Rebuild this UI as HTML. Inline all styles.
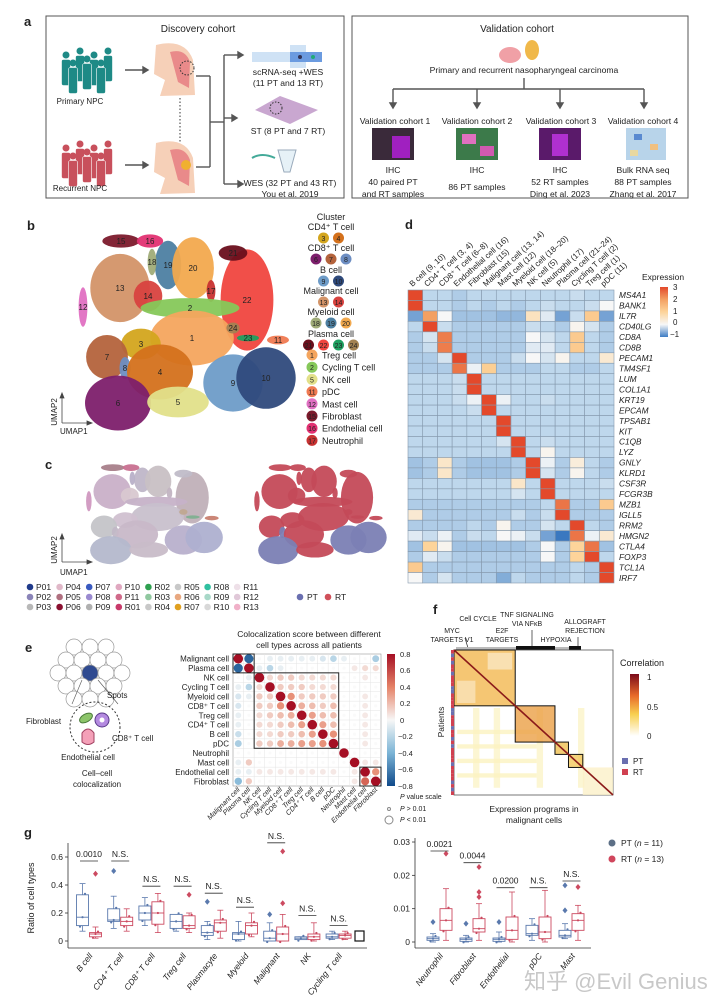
<!DOCTYPE html>
<html><head><meta charset="utf-8"><style>
html,body{margin:0;padding:0;background:#fff;}
svg{display:block;font-family:"Liberation Sans","Noto Sans CJK SC",sans-serif;}
text{fill:#222;}
</style></head><body>
<svg id="fig" width="720" height="1004" viewBox="0 0 720 1004" xmlns="http://www.w3.org/2000/svg">
<rect width="720" height="1004" fill="#fff"/>
<!-- Panel a -->
<g font-size="8.6">
<text x="24" y="26" font-size="13" font-weight="bold">a</text>
<rect x="46" y="16" width="298" height="182" fill="#fff" stroke="#555" stroke-width="1"/>
<rect x="352" y="16" width="336" height="182" fill="#fff" stroke="#555" stroke-width="1"/>
<text x="198" y="32" font-size="10" text-anchor="middle">Discovery cohort</text>
<text x="517" y="32" font-size="10" text-anchor="middle">Validation cohort</text>
<g id="people"></g>
<text x="80" y="104" text-anchor="middle" font-size="8">Primary NPC</text>
<text x="80" y="191" text-anchor="middle" font-size="8">Recurrent NPC</text>
<g stroke="#555" stroke-width="1.4" fill="#555">
<line x1="125" y1="70" x2="143" y2="70"/><polygon points="143,67 148,70 143,73"/>
<line x1="125" y1="165" x2="143" y2="165"/><polygon points="143,162 148,165 143,168"/>
<line x1="196" y1="76" x2="210" y2="76" fill="none"/><line x1="210" y1="76" x2="210" y2="167"/><line x1="196" y1="167" x2="210" y2="167"/>
<line x1="210" y1="122" x2="224" y2="122"/><line x1="224" y1="55" x2="224" y2="184"/>
<line x1="224" y1="55" x2="238" y2="55"/><polygon points="238,52 243,55 238,58"/>
<line x1="224" y1="118" x2="232" y2="118"/><polygon points="232,115 237,118 232,121"/>
<line x1="224" y1="184" x2="238" y2="184"/><polygon points="238,181 243,184 238,187"/>
</g>
<line x1="180" y1="98" x2="180" y2="145" stroke="#333" stroke-dasharray="1.5,2"/>
<g><path d="M156,45 Q185,38 193,60 L195,95 L160,96 L165,80 L154,74 Z" fill="#f6d0b8"/><path d="M170,52 Q185,48 190,62 L189,88 L178,82 Z" fill="#e98a8a"/><circle cx="187" cy="68" r="7" fill="none" stroke="#333" stroke-dasharray="1.5,1.5"/></g>
<g><path d="M156,143 Q185,136 193,158 L195,193 L160,194 L165,178 L154,172 Z" fill="#f6d0b8"/><path d="M170,150 Q185,146 190,160 L189,186 L178,180 Z" fill="#e98a8a"/><circle cx="186" cy="165" r="5" fill="#f0b030"/></g>
<g><rect x="252" y="52" width="70" height="10" fill="#cfe2f5"/><rect x="290" y="45" width="16" height="23" fill="#cfe2f5"/><rect x="290" y="52" width="32" height="10" fill="#6b9be0"/><circle cx="300" cy="57" r="2" fill="#335"/><circle cx="313" cy="57" r="2" fill="#2a7"/></g>
<text x="288" y="75" text-anchor="middle">scRNA-seq +WES</text><text x="288" y="86" text-anchor="middle">(11 PT and 13 RT)</text>
<polygon points="255,110 280,96 318,110 290,124" fill="#c9a7d0"/>
<circle cx="276" cy="108" r="6" fill="none" stroke="#333" stroke-dasharray="1.5,1.5"/>
<text x="288" y="134" text-anchor="middle">ST (8 PT and 7 RT)</text>
<path d="M278,150 L296,150 L290,172 L284,172 Z" fill="#e6f1f7" stroke="#9ab"/><path d="M252,158 Q262,152 275,158" stroke="#4a9" stroke-width="2" fill="none"/>
<text x="290" y="186" text-anchor="middle">WES (32 PT and 43 RT)</text><text x="290" y="197" text-anchor="middle">You et al. 2019</text>
<ellipse cx="510" cy="55" rx="11" ry="8" fill="#f0a0a6"/><ellipse cx="532" cy="50" rx="7" ry="10" fill="#f0b84a"/>
<text x="524" y="73" text-anchor="middle">Primary and recurrent nasopharyngeal carcinoma</text>
<g stroke="#555" stroke-width="1.4" fill="#555">
<line x1="524" y1="78" x2="524" y2="89"/><line x1="393" y1="89" x2="644" y2="89"/>
<line x1="393" y1="89" x2="393" y2="103"/><polygon points="390,103 393,108 396,103"/>
<line x1="477" y1="89" x2="477" y2="103"/><polygon points="474,103 477,108 480,103"/>
<line x1="560" y1="89" x2="560" y2="103"/><polygon points="557,103 560,108 563,103"/>
<line x1="644" y1="89" x2="644" y2="103"/><polygon points="641,103 644,108 647,103"/>
</g>
<g text-anchor="middle">
<text x="395" y="124">Validation cohort 1</text><text x="477" y="124">Validation cohort 2</text><text x="561" y="124">Validation cohort 3</text><text x="643" y="124">Validation cohort 4</text>
<text x="393" y="173">IHC</text><text x="393" y="185">40 paired PT</text><text x="393" y="197">and RT samples</text>
<text x="477" y="173">IHC</text><text x="477" y="190">86 PT samples</text>
<text x="560" y="173">IHC</text><text x="560" y="185">52 RT samples</text><text x="560" y="197">Ding et al. 2023</text>
<text x="643" y="173">Bulk RNA seq</text><text x="643" y="185">88 PT samples</text><text x="643" y="197">Zhang et al. 2017</text>
</g>
<rect x="372" y="128" width="42" height="32" fill="#3a2a3a"/><rect x="392" y="136" width="18" height="22" fill="#a020c0"/>
<rect x="456" y="128" width="42" height="32" fill="#3c7a4a"/><rect x="462" y="134" width="14" height="10" fill="#e070c0"/><rect x="480" y="146" width="14" height="10" fill="#d05ab0"/>
<rect x="539" y="128" width="42" height="32" fill="#5a1a6a"/><rect x="552" y="134" width="16" height="22" fill="#b030d0"/>
<rect x="626" y="128" width="40" height="32" fill="#b8d4ea"/><rect x="634" y="134" width="8" height="6" fill="#5a8ad0"/><rect x="650" y="144" width="8" height="6" fill="#f0c080"/><rect x="630" y="150" width="8" height="6" fill="#e8d8a0"/>
</g>

<!-- Panel b -->
<g>
<text x="27" y="230" font-size="13" font-weight="bold">b</text>
<g id="umapB"></g>
<g id="legendB" font-size="9"></g>
<g stroke="#444" stroke-width="0.8" fill="#444"><line x1="62" y1="396" x2="62" y2="423"/><line x1="62" y1="423" x2="89" y2="423"/><polygon points="60,398 62,393 64,398"/><polygon points="87,421 92,423 87,425"/></g>
<text x="57" y="412" font-size="8" transform="rotate(-90 57 412)" text-anchor="middle">UMAP2</text>
<text x="60" y="434" font-size="8">UMAP1</text>
</g>
<!-- Panel c -->
<g>
<text x="45" y="469" font-size="13" font-weight="bold">c</text>
<g id="umapC1"></g>
<g id="umapC2"></g>
<g stroke="#444" stroke-width="0.8" fill="#444"><line x1="62" y1="537" x2="62" y2="562"/><line x1="62" y1="562" x2="89" y2="562"/><polygon points="60,539 62,534 64,539"/><polygon points="87,560 92,562 87,564"/></g>
<text x="57" y="550" font-size="8" transform="rotate(-90 57 550)" text-anchor="middle">UMAP2</text>
<text x="60" y="575" font-size="8">UMAP1</text>
<g id="legendC" font-size="8.5"></g>
</g>
<!-- Panel d -->
<g>
<text x="405" y="229" font-size="13" font-weight="bold">d</text>
<g id="heatD"></g>
<text x="642" y="280" font-size="8.5">Expression</text>
<defs>
<linearGradient id="gD" x1="0" y1="0" x2="0" y2="1"><stop offset="0" stop-color="#e3492b"/><stop offset="0.25" stop-color="#f3a062"/><stop offset="0.5" stop-color="#fdd49a"/><stop offset="0.75" stop-color="#f7f7f7"/><stop offset="1" stop-color="#3d7cc4"/></linearGradient>
<linearGradient id="gE" x1="0" y1="0" x2="0" y2="1"><stop offset="0" stop-color="#a50f24"/><stop offset="0.25" stop-color="#e58267"/><stop offset="0.5" stop-color="#f7f7f7"/><stop offset="0.75" stop-color="#7bb4d6"/><stop offset="1" stop-color="#104a8a"/></linearGradient>
<linearGradient id="gF" x1="0" y1="0" x2="0" y2="1"><stop offset="0" stop-color="#7a0a1a"/><stop offset="0.35" stop-color="#e86a2a"/><stop offset="0.65" stop-color="#f8d050"/><stop offset="1" stop-color="#ffffff"/></linearGradient>
</defs>
<rect x="660" y="287" width="8" height="50" fill="url(#gD)"/>
<g font-size="8"><text x="673" y="290">3</text><text x="673" y="302">2</text><text x="673" y="314">1</text><text x="673" y="325">0</text><text x="670" y="337">−1</text></g>
</g>
<!-- Panel e -->
<g>
<text x="25" y="652" font-size="13" font-weight="bold">e</text>
<g id="spots"></g>
<text x="107" y="698" font-size="8">Spots</text>
<circle cx="95" cy="727" r="25" fill="none" stroke="#333" stroke-dasharray="2,2"/>
<ellipse cx="86" cy="718" rx="7" ry="4" fill="#8cc46a" stroke="#4a7a3a" transform="rotate(-30 86 718)"/>
<circle cx="102" cy="720" r="7" fill="#b48ae0" stroke="#5a3a8a"/><circle cx="102" cy="720" r="2.5" fill="#fff"/>
<path d="M82,733 q6,-8 12,0 l0,9 q-6,5 -12,0 z" fill="#f4a0b8" stroke="#a04060"/>
<text x="26" y="724" font-size="8">Fibroblast</text><text x="112" y="741" font-size="8">CD8⁺ T cell</text>
<text x="88" y="760" font-size="8" text-anchor="middle">Endothelial cell</text>
<text x="97" y="776" font-size="8" text-anchor="middle">Cell–cell</text><text x="97" y="787" font-size="8" text-anchor="middle">colocalization</text>
<text x="309" y="637" font-size="8.5" text-anchor="middle">Colocalization score between different</text>
<text x="309" y="648" font-size="8.5" text-anchor="middle">cell types across all patients</text>
<g id="matE"></g>
<rect x="387" y="654" width="8" height="132" fill="url(#gE)"/>
<g font-size="7.5"><text x="400" y="657">0.8</text><text x="400" y="673">0.6</text><text x="400" y="690">0.4</text><text x="400" y="706">0.2</text><text x="400" y="723">0</text><text x="398" y="739">−0.2</text><text x="398" y="756">−0.4</text><text x="398" y="772">−0.6</text><text x="398" y="789">−0.8</text></g>
<text x="400" y="799" font-size="7"><tspan font-style="italic">P</tspan> value scale</text>
<circle cx="389" cy="809" r="1.5" fill="none" stroke="#888"/><text x="400" y="811" font-size="7"><tspan font-style="italic">P</tspan> &gt; 0.01</text>
<circle cx="389" cy="820" r="4" fill="none" stroke="#888"/><text x="400" y="822" font-size="7"><tspan font-style="italic">P</tspan> &lt; 0.01</text>
</g>
<!-- Panel f -->
<g>
<text x="433" y="614" font-size="13" font-weight="bold">f</text>
<g font-size="7" text-anchor="middle">
<text x="452" y="633">MYC</text><text x="452" y="642">TARGETS V1</text>
<text x="478" y="621">Cell CYCLE</text>
<text x="502" y="633">E2F</text><text x="502" y="642">TARGETS</text>
<text x="527" y="617">TNF SIGNALING</text><text x="527" y="626">VIA NFκB</text>
<text x="556" y="642">HYPOXIA</text>
<text x="585" y="624">ALLOGRAFT</text><text x="585" y="633">REJECTION</text>
</g>
<g stroke="#222" stroke-width="0.7"><line x1="465" y1="638" x2="468" y2="648"/><line x1="532" y1="630" x2="532" y2="647"/><line x1="578" y1="637" x2="578" y2="647"/></g>
<rect x="456" y="647" width="60" height="3" fill="#bbb"/><rect x="516" y="646" width="39" height="4" fill="#111"/><rect x="555" y="647" width="14" height="3" fill="#bbb"/><rect x="569" y="646" width="12" height="4" fill="#111"/>
<g id="heatF"></g>
<text x="444" y="722" font-size="8.5" transform="rotate(-90 444 722)" text-anchor="middle">Patients</text>
<text x="534" y="812" font-size="8.5" text-anchor="middle">Expression programs in</text>
<text x="534" y="823" font-size="8.5" text-anchor="middle">malignant cells</text>
<text x="620" y="666" font-size="9">Correlation</text>
<rect x="630" y="674" width="9" height="62" fill="url(#gF)"/>
<g font-size="8"><text x="647" y="680">1</text><text x="647" y="710">0.5</text><text x="647" y="739">0</text></g>
<rect x="622" y="758" width="6" height="6" fill="#6a6fb0"/><text x="633" y="764" font-size="8">PT</text>
<rect x="622" y="769" width="6" height="6" fill="#d04050"/><text x="633" y="775" font-size="8">RT</text>
</g>
<!-- Panel g -->
<g>
<text x="24" y="837" font-size="13" font-weight="bold">g</text>
<g id="boxL"></g>
<g id="boxR"></g>
<text x="34" y="898" font-size="9" transform="rotate(-90 34 898)" text-anchor="middle">Ratio of cell types</text>
<circle cx="612" cy="843" r="3.5" fill="#5c6f86"/><text x="621" y="846" font-size="8.5">PT (<tspan font-style="italic">n</tspan> = 11)</text>
<circle cx="612" cy="859" r="3.5" fill="#d0465c"/><text x="621" y="862" font-size="8.5">RT (<tspan font-style="italic">n</tspan> = 13)</text>
<rect x="355" y="931" width="9" height="10" fill="none" stroke="#111" stroke-width="1.2"/>
<text x="524" y="989" font-size="22" style="fill:#c8c8c8">知乎 @Evil Genius</text>
</g>
</svg>
<script>
const NS='http://www.w3.org/2000/svg';
function mk(p,tag,a,t){const e=document.createElementNS(NS,tag);for(const k in a)e.setAttribute(k,a[k]);if(t!=null)e.textContent=t;p.appendChild(e);return e;}

/* ---------- UMAP clusters (b, c) ---------- */
const clusterIds=[13,14,19,20,18,22,21,17,2,1,3,7,8,4,6,5,9,10,15,16,12,11,24,23];
const clusterCx=[120,148,168,193,152,247,233,211,190,192,141,107,125,160,118,178,233,266,121,150,83,278,233,248];
const clusterCy=[288,296,265,268,262,300,253,291,308,338,344,357,368,372,403,402,383,378,241,241,307,340,328,338];
const clusterRx=[27,13,12,19,4,24,13,4,45,38,18,19,5,30,30,28,27,27,17,12,4,10,6,10];
const clusterRy=[31,14,22,28,12,46,7,10,9,25,14,20,10,25,25,14,26,28,6,6,18,4,5,3];
const clusterCol={1:'#f4a55e',2:'#86c85a',3:'#d3a51e',4:'#d4711c',5:'#e2e08a',6:'#7d1f6c',7:'#b4633c',8:'#6d8ec2',9:'#6e9cc8',10:'#2f4a7c',11:'#f07a52',12:'#e070c2',13:'#d39468',14:'#d8423f',15:'#7c1a2c',16:'#e23172',17:'#c83232',18:'#a0ac78',19:'#4d80a2',20:'#f2a94e',21:'#6a0f1c',22:'#f0463f',23:'#1ea060',24:'#a38252'};
const patientTint=['#c9b0c8','#d8c8d0','#bfb6c8','#c8c0c4','#b8b0c8','#c0b0b8','#c0bcc8','#c2b4c2','#c6b2c8','#c8c0cc','#d0c0d0','#c4c4c8','#c2b8c6','#c8b8c8','#b4b8cc','#c8bcc8','#b8b0cc','#aeb0d0','#a8808a','#c87090','#d098c0','#c88070','#c0a890','#80b090'];
const typeIsPT=[0,0,0,0,0,0,0,0,0,0,0,0,1,0,1,0,1,1,0,0,0,0,0,0];
const grow=1.1;
const gB=document.getElementById('umapB');
clusterIds.forEach((id,i)=>{
  const e=mk(gB,'ellipse',{cx:clusterCx[i],cy:clusterCy[i],rx:clusterRx[i]*grow,ry:clusterRy[i]*grow,fill:clusterCol[id],opacity:0.95});
  
  
});
clusterIds.forEach((id,i)=>{
  const t=mk(gB,'text',{x:clusterCx[i],y:clusterCy[i]+3,'font-size':8,'text-anchor':'middle'},String(id));
  
  
});
function drawC(gid,ox,oy,sx,sy,colorFn){
  const g=document.getElementById(gid);
  clusterIds.forEach((id,i)=>{
    const e=mk(g,'ellipse',{cx:ox+(clusterCx[i]-88)*sx,cy:oy+(clusterCy[i]-232)*sy,rx:clusterRx[i]*sx*grow,ry:clusterRy[i]*sy*grow,fill:colorFn(i),opacity:0.95});
    
    
  });
}
drawC('umapC1',92,463,0.63,0.51,i=>patientTint[i]);
drawC('umapC2',260,463,0.61,0.51,i=>typeIsPT[i]?'#7b7fb4':'#c44a58');

/* legend b */
const legB=document.getElementById('legendB');
const legGroups=[['Cluster',217,[]],['CD4⁺ T cell',227,[3,4]],['CD8⁺ T cell',248,[6,7,8]],['B cell',270,[9,10]],['Malignant cell',291,[13,14]],['Myeloid cell',312,[18,19,20]],['Plasma cell',334,[21,22,23,24]]];
legGroups.forEach(g=>{
  const t=mk(legB,'text',{x:331,y:g[1]+3,'text-anchor':'middle'},g[0]);
  
  
  const n=g[2].length, sp=15;
  g[2].forEach((id,k)=>{
    const cx=331+(k-(n-1)/2)*sp, cy=g[1]+11;
    const c=mk(legB,'circle',{cx:cx,cy:cy,r:5.5,fill:clusterCol[id]});
    
    
    mk(legB,'text',{x:cx,y:cy+3,'font-size':7,'text-anchor':'middle'},String(id));
  });
});
const singleIds=[1,2,5,11,12,15,16,17];
const singleNames=['Treg cell','Cycling T cell','NK cell','pDC','Mast cell','Fibroblast','Endothelial cell','Neutrophil'];
singleIds.forEach((id,k)=>{
  const cy=355+k*12.2;
  const c=mk(legB,'circle',{cx:312,cy:cy,r:5.5,fill:clusterCol[id]});
  
  
  mk(legB,'text',{x:312,y:cy+3,'font-size':7,'text-anchor':'middle'},String(id));
  const t=mk(legB,'text',{x:322,y:cy+3.5},singleNames[k]);
  
  
});

/* legend c */
const patients=['P01','P02','P03','P04','P05','P06','P07','P08','P09','P10','P11','R01','R02','R03','R04','R05','R06','R07','R08','R09','R10','R11','R12','R13'];
const patientCols=['#1f3a8a','#8a84b8','#b8b8b8','#e0b8c8','#b07080','#8a1030','#3a5ac0','#9a8ad0','#b0b0b0','#e0a8c0','#d06a8a','#c83a6a','#2ea050','#90c8a0','#c8c8c8','#c8c8c8','#e8a880','#e0a020','#30c0a0','#a8d8c8','#d8d8d8','#eee0e8','#e0c8d8','#f0b0c8'];
const legC=document.getElementById('legendC');
patients.forEach((p,i)=>{
  const col=Math.floor(i/3), row=i%3;
  const x=30+col*29.6, y=587+row*10;
  const c=mk(legC,'circle',{cx:x,cy:y,r:3.3,fill:patientCols[i]});
  
  
  const t=mk(legC,'text',{x:x+6,y:y+3},p);
  
  
});
[['PT','#6a6fb0',300],['RT','#d0505a',328]].forEach(d=>{
  const c=mk(legC,'circle',{cx:d[2],cy:597,r:3.3,fill:d[1]});
  
  
  mk(legC,'text',{x:d[2]+7,y:600},d[0]);
});

/* ---------- Panel d heatmap ---------- */
const dCols=['B cell (9, 10)','CD4⁺ T cell (3, 4)','CD8⁺ T cell (6–8)','Endothelial cell (16)','Fibroblast (15)','Malignant cell (13, 14)','Mast cell (12)','Myeloid cell (18–20)','NK cell (5)','Neutrophil (17)','Plasma cell (21–24)','Cycling T cell (2)','Treg cell (1)','pDC (11)'];
const dGenes=['MS4A1','BANK1','IL7R','CD40LG','CD8A','CD8B','PECAM1','TM4SF1','LUM','COL1A1','KRT19','EPCAM','TPSAB1','KIT','C1QB','LYZ','GNLY','KLRD1','CSF3R','FCGR3B','MZB1','IGLL5','RRM2','HMGN2','CTLA4','FOXP3','TCL1A','IRF7'];
const dValues=[
[3,-.5,-.5,-.6,-.5,-.5,-.5,-.5,-.5,-.5,-.5,-.4,-.5,-.5],
[3,-.5,-.5,-.6,-.5,-.6,-.5,-.6,-.5,-.4,-.5,-.5,-.4,0],
[-1,2,0,-.7,-.7,-.7,-.8,-.8,.6,-.2,-1,-.4,1.2,-1],
[-.5,3,-.4,-.6,-.6,-.6,-.6,-.6,-.4,-.5,-.6,.1,-.3,-.6],
[-.6,-.3,2.4,-.6,-.6,-.6,-.6,-.6,0,-.3,-.5,1.2,-.5,-.6],
[-.6,-.4,2.4,-.6,-.6,-.6,-.6,-.6,-.2,-.2,-.5,1.2,-.5,-.6],
[-.6,-.6,-.3,3,-.6,-.6,-.6,-.4,0,-.3,.1,-.5,-.5,.4],
[-.6,-.6,-.6,2.5,-.1,1.1,-.6,-.6,-.6,-.5,-.5,-.6,-.6,-.5],
[-.5,-.5,-.5,-.4,3,-.5,-.5,-.5,-.5,-.5,-.5,-.5,-.5,-.5],
[-.5,-.5,-.5,-.4,3,-.5,-.5,-.5,-.5,-.5,-.5,-.5,-.5,-.5],
[-.5,-.5,-.5,-.4,-.1,3,-.1,-.5,-.5,-.4,-.5,-.5,-.5,-.5],
[-.5,-.5,-.5,-.5,-.4,3,-.5,-.5,-.5,-.5,-.5,-.5,-.5,-.5],
[-.5,-.5,-.5,-.5,-.5,-.5,3,-.5,-.5,-.5,-.5,-.5,-.5,-.5],
[-.5,-.5,-.5,-.5,-.5,-.5,3,-.5,-.5,-.5,-.5,-.5,-.5,-.5],
[-.5,-.5,-.5,-.5,-.5,-.5,-.3,3,-.5,-.4,-.5,-.5,-.5,-.5],
[-.5,-.5,-.5,-.5,-.5,-.5,-.5,3,-.5,.1,-.5,-.5,-.5,-.5],
[-.7,-.6,.5,-.6,-.7,-.7,-.7,-.6,3,-.1,-.6,.3,-.5,-.6],
[-.7,-.6,.5,-.6,-.7,-.7,-.7,-.6,3,-.3,-.6,.1,-.5,-.6],
[-.5,-.5,-.5,-.5,-.5,-.5,-.5,.5,-.5,3,-.5,-.5,-.5,-.4],
[-.5,-.5,-.5,-.5,-.5,-.5,-.5,-.3,-.5,3,-.5,-.5,-.5,-.5],
[-.6,-.6,-.6,-.6,-.6,-.6,-.6,-.6,-.6,-.5,2.5,-.6,-.6,1.2],
[.4,-.6,-.6,-.6,-.6,-.6,-.6,-.4,-.6,-.4,3,-.6,-.6,-.6],
[-.6,-.6,-.6,-.6,-.5,-.6,.1,-.6,-.6,-.3,-.5,3,-.5,-.6],
[-.2,-.4,-.1,-.6,-.4,-.5,0,-.1,-.4,-1,-1.4,2.5,-.1,.4],
[-.7,1,.1,-.7,-.7,-.7,-.7,-.7,-.6,0,-.6,1,2.5,-.7],
[-.6,-.2,-.4,-.6,-.6,-.6,-.6,-.6,-.6,0,-.6,1,3,-.5],
[1.2,-.6,-.6,-.6,-.6,-.6,-.6,-.6,-.6,-.6,-.6,-.5,-.6,3],
[0,-.6,-.3,-.6,-.6,-.6,-.9,-.5,-.6,-.6,-.6,-.5,-.6,3]];
const dStops=[[-1.4,[58,120,192]],[-0.5,[190,215,236]],[0,[247,247,247]],[1,[253,212,154]],[2,[243,160,98]],[3,[227,73,43]]];
function interp(stops,v){if(v<=stops[0][0])return 'rgb('+stops[0][1]+')';for(let i=1;i<stops.length;i++){if(v<=stops[i][0]){const a=stops[i-1],b=stops[i],t=(v-a[0])/(b[0]-a[0]);return 'rgb('+a[1].map((c,k)=>Math.round(c+(b[1][k]-c)*t)).join(',')+')';}}return 'rgb('+stops[stops.length-1][1]+')';}
const hD=document.getElementById('heatD');
const dX0=408,dY0=290,dW=206,dH=293;
const dcw=dW/dCols.length, drh=dH/dGenes.length;
const dx=j=>dX0+j*dcw, dy=i=>dY0+i*drh;
dValues.forEach((row,i)=>row.forEach((v,j)=>{
  const r=mk(hD,'rect',{x:dx(j),y:dy(i),width:dcw,height:drh,fill:interp(dStops,v),stroke:'#8599ad','stroke-width':0.6});
  
  
}));
dGenes.forEach((g,i)=>{
  const t=mk(hD,'text',{x:619,y:dy(i)+drh/2+3,'font-size':8.3,'font-style':'italic'},g);
  
  
});
dCols.forEach((c,j)=>{
  const x=dx(j)+dcw/2-3, y=287;
  const t=mk(hD,'text',{x:x,y:y,'font-size':8,transform:'rotate(-42 '+x+' '+y+')'},c);
  
  
});

/* ---------- Panel e ---------- */
const spotsG=document.getElementById('spots');
const spotRows=[[-1,0,1],[-1.5,-.5,.5,1.5],[-2,-1,0,1,2],[-1.5,-.5,.5,1.5],[-1,0,1]];
spotRows.forEach((r,ri)=>r.forEach(c=>{
  const cc=mk(spotsG,'circle',{cx:90+c*16,cy:673+(ri-2)*13,r:8,fill:(ri==2&&c==0)?'#2f4a90':'#fff',stroke:'#999','stroke-width':0.7});
  
  
}));
mk(spotsG,'line',{x1:82,y1:680,x2:72,y2:704,stroke:'#555','stroke-width':0.6});
mk(spotsG,'line',{x1:98,y1:680,x2:118,y2:704,stroke:'#555','stroke-width':0.6});

const eTypes=['Malignant cell','Plasma cell','NK cell','Cycling T cell','Myeloid cell','CD8⁺ T cell','Treg cell','CD4⁺ T cell','B cell','pDC','Neutrophil','Mast cell','Endothelial cell','Fibroblast'];
const eValues=[
[0.8,-0.7,0,-0.05,-0.05,-0.05,-0.05,-0.05,-0.1,-0.2,-0.05,0,0,-0.25],
[-0.7,0.8,-0.05,-0.2,-0.05,0,0,0,0,0,0,0.05,0.1,0.1],
[0,-0.05,0.8,0.1,0.15,0.15,0.1,0.1,0.1,0.1,0,0,0.05,0],
[-0.05,-0.2,0.1,0.8,0.15,0.15,0.15,0.1,0.1,0.1,0,0,0,0],
[-0.1,-0.05,0.15,0.15,0.8,0.35,0.15,0.15,0.15,0.15,0,0,0.05,0],
[-0.1,0,0.15,0.15,0.35,0.8,0.25,0.2,0.15,0.2,0,0,0.05,0],
[-0.05,0,0.1,0.15,0.2,0.25,0.8,0.3,0.2,0.2,0,0,0.05,0],
[-0.05,0,0.1,0.1,0.15,0.2,0.3,0.8,0.3,0.2,0,0,0.05,0],
[-0.15,0,0.1,0.1,0.15,0.15,0.2,0.3,0.8,0.35,0,0,0.05,0],
[-0.25,0,0.15,0.15,0.25,0.25,0.3,0.3,0.35,0.8,0,0,0.05,0],
[0,0,0,0,0,0,0,0,0,0,0.8,0,0,0],
[-0.05,0.15,0,0,0,0,0,0,0,0,0,0.8,0.05,0.05],
[-0.05,-0.05,0.05,0.05,0.05,0.05,0.05,0.05,0.05,0.05,0,0.05,0.8,0.35],
[-0.35,0.15,0,0,0,0,0,0,0,0,0,0.05,0.5,0.8]];
const eStops=[[-0.8,[16,74,138]],[-0.4,[123,180,214]],[0,[247,247,247]],[0.4,[229,130,103]],[0.8,[165,15,36]]];
const mE=document.getElementById('matE');
const eX0=233,eY0=654,eW=148,eH=132;
const ecw=eW/14, ech=eH/14;
const ex=j=>eX0+j*ecw, ey=i=>eY0+i*ech;
mk(mE,'rect',{x:eX0,y:eY0,width:eW,height:eH,fill:'#fff',stroke:'#999','stroke-width':0.6});
for(let k=1;k<14;k++){mk(mE,'line',{x1:ex(k),y1:eY0,x2:ex(k),y2:eY0+eH,stroke:'#e4e4e4','stroke-width':0.5});mk(mE,'line',{x1:eX0,y1:ey(k),x2:eX0+eW,y2:ey(k),stroke:'#e4e4e4','stroke-width':0.5});}
eValues.forEach((row,i)=>row.forEach((v,j)=>{
  const a=Math.abs(v); const r=a<0.04?1.6:Math.min(4.8,2.8+2.0*a/0.8);
  const c=mk(mE,'circle',{cx:ex(j)+ecw/2,cy:ey(i)+ech/2,r:r,fill:interp(eStops,v),opacity:a<0.04?0.6:1});
  
  
}));
[[0,2],[2,10],[12,14]].forEach(b=>mk(mE,'rect',{x:ex(b[0]),y:ey(b[0]),width:ex(b[1])-ex(b[0]),height:ey(b[1])-ey(b[0]),fill:'none',stroke:'#222','stroke-width':1}));
eTypes.forEach((t,i)=>{
  const r=mk(mE,'text',{x:229,y:ey(i)+ech/2+3,'font-size':8,'text-anchor':'end'},t);
  
  
  const x=ex(i)+ecw/2+2, y=790;
  const c=mk(mE,'text',{x:x,y:y,'font-size':7,'text-anchor':'end','font-style':'italic',transform:'rotate(-45 '+x+' '+y+')'},t);
  
  
});

/* ---------- Panel f ---------- */
const fBlockStart=[0,0.385,0.635,0.72,0.81];
const fBlockEnd=[0.385,0.635,0.72,0.81,1];
const fBlockFill=['#f2b850','#eba046','#f0c050','#f3c85c','#fbf0c8'];
const fBlockBox=[1,1,1,1,0];
const fBands=[0.12,0.25,0.52,0.78];
const hF=document.getElementById('heatF');
const fX0=454,fY0=650,fS=159,fH=145;
mk(hF,'rect',{x:fX0,y:fY0,width:fS,height:fH,fill:'#fff',stroke:'#555','stroke-width':0.8});
fBands.forEach((b,k)=>{
  const r=mk(hF,'rect',{x:fX0+b*fS,y:fY0+0.4*fH,width:0.04*fS,height:0.55*fH,fill:'#fbf2c0',opacity:0.7});
  
  
  const r2=mk(hF,'rect',{x:fX0+0.02*fS,y:fY0+(0.55+k*0.1)*fH,width:0.5*fS,height:0.03*fH,fill:'#fbf2c0',opacity:0.8});
  
  
});
fBlockStart.forEach((s,k)=>{
  const x=fX0+s*fS, y=fY0+s*fH, w=(fBlockEnd[k]-s)*fS, h=(fBlockEnd[k]-s)*fH;
  const r=mk(hF,'rect',{x:x,y:y,width:w,height:h,fill:fBlockFill[k],opacity:0.8});
  
  
  if(k===0){mk(hF,'rect',{x:x+w*0.55,y:y+h*0.05,width:w*0.4,height:h*0.3,fill:'#fff',opacity:0.45});mk(hF,'rect',{x:x+w*0.05,y:y+h*0.55,width:w*0.3,height:h*0.4,fill:'#fff',opacity:0.4});}
  if(fBlockBox[k])mk(hF,'rect',{x:x,y:y,width:w,height:h,fill:'none',stroke:'#111','stroke-width':1});
});
const dl=mk(hF,'line',{x1:fX0,y1:fY0,x2:fX0+fS,y2:fY0+fH,stroke:'#8b1a1a','stroke-width':1.6});


for(let k=0;k<40;k++){
  const s=mk(hF,'rect',{x:fX0-3,y:fY0+k*fH/40,width:3,height:fH/40,fill:(k%5===1||k%7===3)?'#6a6fb0':'#d04050'});
  
  
}

/* ---------- Panel g boxplots ---------- */
const gCatsL=['B cell','CD4⁺ T cell','CD8⁺ T cell','Treg cell','Plasmacyte','Myeloid','Malignant','NK','Cycling T cell'];
// [q1, median, q3, whiskerLow, whiskerHigh]
const ptBoxL=[[.11,.17,.33,.07,.41],[.14,.15,.23,.09,.32],[.15,.20,.25,.11,.31],[.09,.14,.19,.07,.19],[.04,.06,.11,.01,.14],[.01,.05,.06,0,.14],[0,.02,.07,0,.13],[.01,.02,.03,.01,.03],[.02,.03,.05,.01,.07]];
const rtBoxL=[[.03,.05,.06,.02,.10],[.11,.14,.17,.07,.23],[.12,.20,.28,.06,.34],[.09,.11,.18,.06,.20],[.07,.13,.15,.02,.22],[.05,.11,.13,.03,.20],[0,.05,.10,0,.19],[.01,.03,.05,0,.13],[.02,.04,.05,.01,.07]];
const ptOutL=[[],[.50],[],[],[.28],[],[.19],[],[]];
const rtOutL=[[.48],[],[],[.33],[],[],[.27,.64],[],[]];
const sigL=['0.0010','N.S.','N.S.','N.S.','N.S.','N.S.','N.S.','N.S.','N.S.'];
const sigYL=[.60,.60,.42,.42,.37,.27,.73,.21,.14];
const yTicksL=[0,0.2,0.4,0.6];
const gCatsR=['Neutrophil','Fibroblast','Endothelial','pDC','Mast'];
const ptBoxR=[[.0005,.001,.0015,0,.0025],[.0002,.0008,.0012,0,.002],[.0002,.0008,.0012,0,.003],[.002,.0025,.005,.0005,.007],[.0015,.002,.0035,.001,.0055]];
const rtBoxR=[[.0035,.0065,.010,.0005,.016],[.003,.004,.007,.0005,.0115],[.0008,.0035,.0075,0,.015],[.001,.003,.0075,0,.0155],[.0035,.0065,.0085,.0005,.011]];
const ptOutR=[[.006],[.0055],[.006],[],[.0095,.017]];
const rtOutR=[[.0265],[.0135,.015,.0225],[],[],[.0165]];
const sigR=['0.0021','0.0044','0.0200','N.S.','N.S.'];
const sigYR=[.0285,.025,.0175,.0175,.0195];
const yTicksR=[0,0.01,0.02,0.03];

function boxPanel(gid,cats,pt,rt,ptO,rtO,sig,sigY,ticks,ax,axR,yTop,xC0,xStep,yScale,fmt){
  const g=document.getElementById(gid);
  mk(g,'line',{x1:ax,y1:yTop,x2:ax,y2:948,stroke:'#333','stroke-width':0.8});
  mk(g,'line',{x1:ax,y1:948,x2:axR,y2:948,stroke:'#333','stroke-width':0.8});
  ticks.forEach(v=>{
    mk(g,'line',{x1:ax-3,y1:yScale(v),x2:ax,y2:yScale(v),stroke:'#333','stroke-width':0.8});
    const t=mk(g,'text',{x:ax-5,y:yScale(v)+3,'font-size':8.5,'text-anchor':'end'},fmt(v));
    
    
  });
  cats.forEach((c,i)=>{
    const xc=xC0+i*xStep;
    [[pt,ptO,-6.5,'#5a79ad'],[rt,rtO,6.5,'#cc4a60']].forEach(s=>{
      const b=s[0][i], x=xc+s[2], col=s[3], w=12;
      const wl=mk(g,'line',{x1:x,y1:yScale(b[3]),x2:x,y2:yScale(b[4]),stroke:col,'stroke-width':0.8});
      
      
      mk(g,'line',{x1:x-3,y1:yScale(b[4]),x2:x+3,y2:yScale(b[4]),stroke:col,'stroke-width':0.8});
      mk(g,'line',{x1:x-3,y1:yScale(b[3]),x2:x+3,y2:yScale(b[3]),stroke:col,'stroke-width':0.8});
      const r=mk(g,'rect',{x:x-w/2,y:yScale(b[2]),width:w,height:Math.max(0.8,yScale(b[0])-yScale(b[2])),fill:'#fff',stroke:col,'stroke-width':0.9});
      
      
      mk(g,'line',{x1:x-w/2,y1:yScale(b[1]),x2:x+w/2,y2:yScale(b[1]),stroke:col,'stroke-width':0.9});
      [b[0],b[1],b[2]].forEach((v,k)=>{const d=mk(g,'circle',{cx:x+(k-1)*2.5,cy:yScale(v)+(k-1)*-1,r:1.1,fill:col});});
      s[1][i].forEach(v=>{
        const y=yScale(v);
        const o=mk(g,'polygon',{points:(x)+','+(y-3)+' '+(x+2.5)+','+y+' '+x+','+(y+3)+' '+(x-2.5)+','+y,fill:col});
        
        
      });
    });
    const sy=yScale(sigY[i]);
    const st=mk(g,'text',{x:xc,y:sy,'font-size':8.5,'text-anchor':'middle'},sig[i]);
    
    
    mk(g,'line',{x1:xc-9,y1:sy+4,x2:xc+9,y2:sy+4,stroke:'#333','stroke-width':0.8});
    const lx=xc+4, ly=956;
    const lt=mk(g,'text',{x:lx,y:ly,'font-size':8.5,'font-style':'italic','text-anchor':'end',transform:'rotate(-52 '+lx+' '+ly+')'},c);
    
    
  });
}
boxPanel('boxL',gCatsL,ptBoxL,rtBoxL,ptOutL,rtOutL,sigL,sigYL,yTicksL,68,367,843,89,31.2,v=>941-v*140,v=>v===0?'0':v.toFixed(1));
boxPanel('boxR',gCatsR,ptBoxR,rtBoxR,ptOutR,rtOutR,sigR,sigYR,yTicksR,415,591,838,439.5,33,v=>942-v*3333,v=>v===0?'0':v.toFixed(2));

/* people icons */
const pg=document.getElementById('people');
function people(y0,col){
  const xs=[66,80,94,108,73,87,101],ys=[0,-4,0,-4,8,4,8];
  xs.forEach((x,k)=>{
    const y=y0+ys[k];
    const h=mk(pg,'circle',{cx:x,cy:y,r:3.5,fill:col});
    
    
    mk(pg,'rect',{x:x-4.5,y:y+4.5,width:9,height:26,rx:2,fill:col,stroke:'#fff','stroke-width':0.6});
  });
}
people(55,'#1e8a86');
people(148,'#c8505c');
</script>
</body></html>
